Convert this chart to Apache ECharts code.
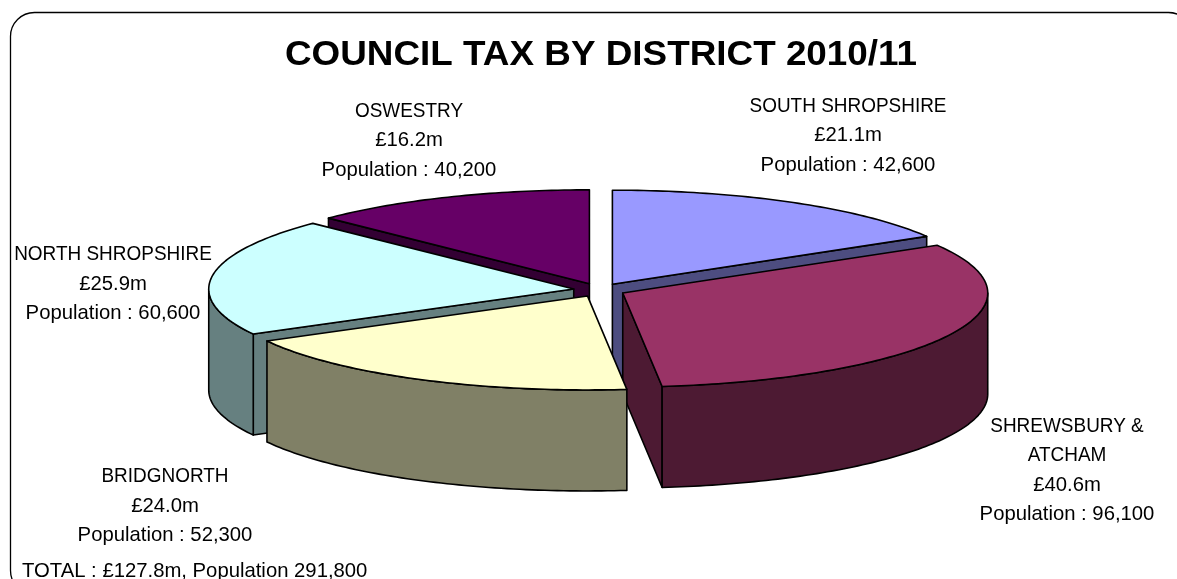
<!DOCTYPE html>
<html>
<head>
<meta charset="utf-8">
<title>Council tax by district 2010/11</title>
<style>
  html, body { margin: 0; padding: 0; background: #ffffff; }
  #chart { width: 1177px; height: 579px; }
</style>
<script src="https://cdn.jsdelivr.net/npm/echarts@6/dist/echarts.min.js"></script>
</head>
<body>
<div id="chart"></div>
<script>
// Council tax take and population per district, clockwise from twelve o'clock.
const districts = ['SOUTH SHROPSHIRE', 'SHREWSBURY &\nATCHAM', 'BRIDGNORTH', 'NORTH SHROPSHIRE', 'OSWESTRY'];
const taxMillions = [21.1, 40.6, 24.0, 25.9, 16.2];
const populations = [42600, 96100, 52300, 60600, 40200];

// Fill colours: top faces and the darker side walls.
const topColours = ['#9999FF', '#993366', '#FFFFCC', '#CCFFFF', '#660066'];
const sideColours = ['#4D4D80', '#4D1A33', '#808066', '#668080', '#330033'];

// Back-to-front painting order of the slices (higher paints later).
const paintOrder = [1, 3, 4, 2, 0];

// Pixel anchors for the middle of each label block.
const labelAnchors = [[848, 135.5], [1067, 470.5], [165, 506], [113, 284], [409, 140.5]];

const CENTER_X = 599.5, CENTER_Y = 290;
const RADIUS_X = 365, RADIUS_Y = 94;
const EXPLODE = 26, DEPTH = 101;
const SQUASH = RADIUS_Y / RADIUS_X;
const LABEL_FONT = '"Liberation Sans", Arial, sans-serif';
const LABEL_SIZE = 20.3, LINE_GAP = 29.5, CAPS_SQUEEZE = 0.935;

const totalTax = taxMillions.reduce((a, b) => a + b, 0);
const totalPopulation = populations.reduce((a, b) => a + b, 0);
const fmtPop = n => n.toLocaleString('en-GB');

// Start angles in degrees, clockwise from north.
const startAngles = [];
taxMillions.reduce((sum, v, i) => {
  startAngles[i] = sum / totalTax * 360;
  return sum + v;
}, 0);

const rad = d => d * Math.PI / 180;

function renderSlice(params, api) {
  const i = params.dataIndex;
  const sweep = api.value(0) / totalTax * 360;
  const a0 = startAngles[i];
  const a1 = a0 + sweep;
  const mid = rad((a0 + a1) / 2);
  const cx = CENTER_X + EXPLODE * Math.sin(mid);
  const cy = CENTER_Y - EXPLODE * SQUASH * Math.cos(mid);
  const rim = (deg, drop) => [
    cx + RADIUS_X * Math.sin(rad(deg)),
    cy - RADIUS_Y * Math.cos(rad(deg)) + drop
  ];
  const arc = (from, to, drop) => {
    const pts = [];
    const steps = Math.max(1, Math.ceil(Math.abs(to - from)));
    for (let s = 0; s <= steps; s++) pts.push(rim(from + (to - from) * s / steps, drop));
    return pts;
  };

  const base = paintOrder[i] * 10;
  const children = [];
  const face = (points, fill) => children.push({
    type: 'polygon',
    z2: base + children.length,
    shape: { points },
    style: { fill, stroke: '#000000', lineWidth: 1.6, lineJoin: 'round' }
  });

  // Cut faces, only where they turn towards the viewer.
  if (Math.sin(rad(a0)) < -1e-6) {
    face([[cx, cy], rim(a0, 0), rim(a0, DEPTH), [cx, cy + DEPTH]], sideColours[i]);
  }
  if (Math.sin(rad(a1)) > 1e-6) {
    face([[cx, cy], rim(a1, 0), rim(a1, DEPTH), [cx, cy + DEPTH]], sideColours[i]);
  }
  // Outer wall along the front half of the rim.
  const w0 = Math.max(a0, 90), w1 = Math.min(a1, 270);
  if (w1 > w0) {
    face(arc(w0, w1, 0).concat(arc(w1, w0, DEPTH)), sideColours[i]);
  }
  // Top face.
  face([[cx, cy]].concat(arc(a0, a1, 0)), topColours[i]);

  // Label block: upper-case district lines are set slightly narrower.
  const nameLines = districts[i].split('\n');
  const lines = nameLines.concat([
    '£' + api.value(0).toFixed(1) + 'm',
    'Population : ' + fmtPop(populations[i])
  ]);
  const [ax, ay] = labelAnchors[i];
  lines.forEach((line, k) => {
    children.push({
      type: 'text',
      z2: 100,
      x: ax,
      y: ay + (k - (lines.length - 1) / 2) * LINE_GAP,
      scaleX: k < nameLines.length ? CAPS_SQUEEZE : 1,
      style: {
        text: line,
        align: 'center',
        verticalAlign: 'middle',
        fill: '#000000',
        font: LABEL_SIZE + 'px ' + LABEL_FONT
      }
    });
  });
  return { type: 'group', children };
}

const chart = echarts.init(document.getElementById('chart'), null, { renderer: 'canvas' });
chart.setOption({
  animation: false,
  backgroundColor: '#ffffff',
  graphic: [
    {
      type: 'rect',
      z: -1,
      shape: { x: 10.5, y: 12.5, width: 1182, height: 582, r: 24 },
      style: { fill: 'none', stroke: '#000000', lineWidth: 1.3 }
    },
    {
      type: 'text',
      x: 601,
      y: 55,
      scaleX: 1.053,
      style: {
        text: 'COUNCIL TAX BY DISTRICT 2010/11',
        align: 'center',
        verticalAlign: 'middle',
        fill: '#000000',
        font: 'bold 35px ' + LABEL_FONT
      }
    },
    {
      type: 'text',
      x: 22,
      y: 571,
      style: {
        text: 'TOTAL : £' + totalTax.toFixed(1) + 'm, Population ' + fmtPop(totalPopulation),
        align: 'left',
        verticalAlign: 'middle',
        fill: '#000000',
        font: LABEL_SIZE + 'px ' + LABEL_FONT
      }
    }
  ],
  series: [{
    type: 'custom',
    coordinateSystem: 'none',
    silent: true,
    clip: false,
    renderItem: renderSlice,
    data: taxMillions.map(v => [v])
  }]
});
</script>
</body>
</html>
